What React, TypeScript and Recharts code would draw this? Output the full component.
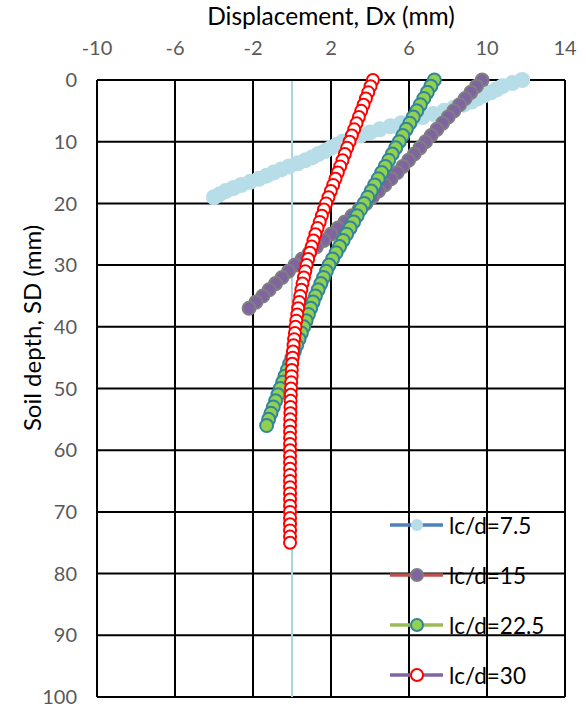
import React from 'react';
import { ScatterChart, Scatter, XAxis, YAxis, CartesianGrid, ReferenceLine } from 'recharts';

// soil depth of each reading (mm)
const depthMm = [
  0, 1, 2, 3, 4, 5, 6, 7, 8, 9,
  10, 11, 12, 13, 14, 15, 16, 17, 18, 19,
  20, 21, 22, 23, 24, 25, 26, 27, 28, 29,
  30, 31, 32, 33, 34, 35, 36, 37, 38, 39,
  40, 41, 42, 43, 44, 45, 46, 47, 48, 49,
  50, 51, 52, 53, 54, 55, 56, 57, 58, 59,
  60, 61, 62, 63, 64, 65, 66, 67, 68, 69,
  70, 71, 72, 73, 74, 75,
];
// the short pile (lc/d=7.5) is read every half millimetre
const depthShort = [
  0, 0.5, 1, 1.5, 2, 2.5, 3, 3.5, 4, 4.5,
  5, 5.5, 6, 6.5, 7, 7.5, 8, 8.5, 9, 9.5,
  10, 10.5, 11, 11.5, 12, 12.5, 13, 13.5, 14, 14.5,
  15, 15.5, 16, 16.5, 17, 17.5, 18, 18.5, 19,
];

// horizontal displacement Dx (mm), one value per depth above
const dxLc75 = [
  11.8, 11.3, 10.8, 10.5, 10.2, 9.85, 9.5, 9.2, 8.8, 8.3,
  7.8, 7.25, 6.7, 6.15, 5.6, 5.05, 4.5, 4.0, 3.5, 3.05,
  2.6, 2.3, 2.0, 1.7, 1.35, 1.05, 0.7, 0.3, -0.15, -0.55,
  -0.95, -1.3, -1.7, -2.15, -2.6, -3.0, -3.4, -3.7, -4.0,
];
const dxLc15 = [
  9.75, 9.46, 9.17, 8.88, 8.59, 8.3, 8.01, 7.72, 7.43, 7.14,
  6.85, 6.56, 6.27, 5.98, 5.69, 5.4, 5.08, 4.76, 4.44, 4.12,
  3.8, 3.44, 3.08, 2.72, 2.36, 2.0, 1.63, 1.26, 0.89, 0.52,
  0.15, -0.18, -0.51, -0.84, -1.17, -1.5, -1.85, -2.2,
];
const dxLc225 = [
  7.3, 7.12, 6.94, 6.76, 6.58, 6.4, 6.22, 6.04, 5.86, 5.68,
  5.5, 5.32, 5.14, 4.96, 4.78, 4.6, 4.42, 4.24, 4.06, 3.88,
  3.7, 3.52, 3.34, 3.16, 2.98, 2.8, 2.62, 2.44, 2.26, 2.08,
  1.9, 1.76, 1.62, 1.48, 1.34, 1.2, 1.08, 0.96, 0.84, 0.72,
  0.6, 0.48, 0.36, 0.24, 0.12, 0.0, -0.12, -0.24, -0.36, -0.48,
  -0.6, -0.72, -0.84, -0.96, -1.08, -1.2, -1.3,
];
const dxLc30 = [
  4.15, 4.03, 3.91, 3.79, 3.67, 3.55, 3.43, 3.31, 3.19, 3.07,
  2.95, 2.83, 2.71, 2.59, 2.47, 2.35, 2.23, 2.11, 1.99, 1.87,
  1.75, 1.64, 1.53, 1.42, 1.31, 1.2, 1.1, 1.01, 0.92, 0.83,
  0.75, 0.68, 0.61, 0.54, 0.48, 0.42, 0.37, 0.32, 0.27, 0.22,
  0.18, 0.15, 0.11, 0.08, 0.05, 0.03, 0.01, -0.01, -0.02, -0.04,
  -0.05, -0.06, -0.07, -0.08, -0.08, -0.09, -0.1, -0.1, -0.1, -0.1,
  -0.1, -0.1, -0.1, -0.1, -0.1, -0.1, -0.1, -0.1, -0.1, -0.1,
  -0.1, -0.1, -0.1, -0.1, -0.1, -0.1,
];

const xTicks = [-10, -6, -2, 2, 6, 10, 14];
const yTicks = [0, 10, 20, 30, 40, 50, 60, 70, 80, 90, 100];

const FONT = 'Lato, "Open Sans", sans-serif';

const toPoints = (vals: number[], depths: number[]) => vals.map((dx, i) => ({ dx, sd: depths[i] }));

const series = [
  { name: 'lc/d=7.5', data: toPoints(dxLc75, depthShort), fill: '#b7dde8', stroke: '#b7dde8', r: 8, sw: 0, line: '#4f81bd' },
  { name: 'lc/d=15', data: toPoints(dxLc15, depthMm), fill: '#8064a2', stroke: '#7f7f7f', r: 6.5, sw: 2, line: '#c0504d' },
  { name: 'lc/d=22.5', data: toPoints(dxLc225, depthMm), fill: '#92d050', stroke: '#31859c', r: 6.5, sw: 2, line: '#9bbb59' },
  { name: 'lc/d=30', data: toPoints(dxLc30, depthMm), fill: '#ffffff', stroke: '#ff0000', r: 6, sw: 2, line: '#8064a2' },
];

const LegendBox = () => (
  <svg width={200} height={200} style={{ position: 'absolute', left: 385, top: 500, pointerEvents: 'none' }}>
    {series.map((s, i) => {
      const y = 25 + i * 50;
      return (
        <g key={s.name}>
          <line x1={5} x2={58} y1={y} y2={y} stroke={s.line} strokeWidth={3.5} />
          <circle cx={32} cy={y} r={6} fill={s.fill} stroke={s.stroke} strokeWidth={s.sw} />
          <text x={64} y={y} dominantBaseline="central" fontSize={22.5} fontFamily={FONT} fill="#000">
            {s.name}
          </text>
        </g>
      );
    })}
  </svg>
);

const yTitle = () => (
  <text
    x={31}
    y={328}
    transform="rotate(-90 31 328)"
    textAnchor="middle"
    dominantBaseline="central"
    fontSize={24}
    fontFamily={FONT}
    fill="#000"
  >
    Soil depth, SD (mm)
  </text>
);

export default function App() {
  return (
    <div style={{ position: 'absolute', left: 0, top: 0, width: 586, height: 711, background: '#fff' }}>
      <ScatterChart width={586} height={711} margin={{ top: 30, right: 21, bottom: 14, left: 37 }}>
        <CartesianGrid stroke="#000" strokeWidth={2} />
        <XAxis
          type="number"
          dataKey="dx"
          orientation="top"
          domain={[-10, 14]}
          ticks={xTicks}
          height={50}
          tickSize={0}
          tickMargin={25}
          axisLine={{ stroke: '#000', strokeWidth: 2 }}
          tick={{ fill: '#595959', fontSize: 20, fontFamily: FONT }}
          label={{ value: 'Displacement, Dx (mm)', position: 'top', offset: 5, fill: '#000', fontSize: 24.5, fontFamily: FONT }}
        />
        <YAxis
          type="number"
          dataKey="sd"
          reversed
          domain={[0, 100]}
          ticks={yTicks}
          width={60}
          tickSize={0}
          tickMargin={20}
          axisLine={{ stroke: '#000', strokeWidth: 2 }}
          tick={{ fill: '#595959', fontSize: 20, fontFamily: FONT }}
          label={{ content: yTitle }}
        />
        <ReferenceLine x={0} stroke="#a9d4e0" strokeWidth={2} />
        {series.map((s) => (
          <Scatter
            key={s.name}
            name={s.name}
            data={s.data}
            isAnimationActive={false}
            shape={(p: any) => (
              <circle cx={p.cx} cy={p.cy} r={s.r} fill={s.fill} stroke={s.stroke} strokeWidth={s.sw} />
            )}
          />
        ))}
      </ScatterChart>
      <LegendBox />
    </div>
  );
}
